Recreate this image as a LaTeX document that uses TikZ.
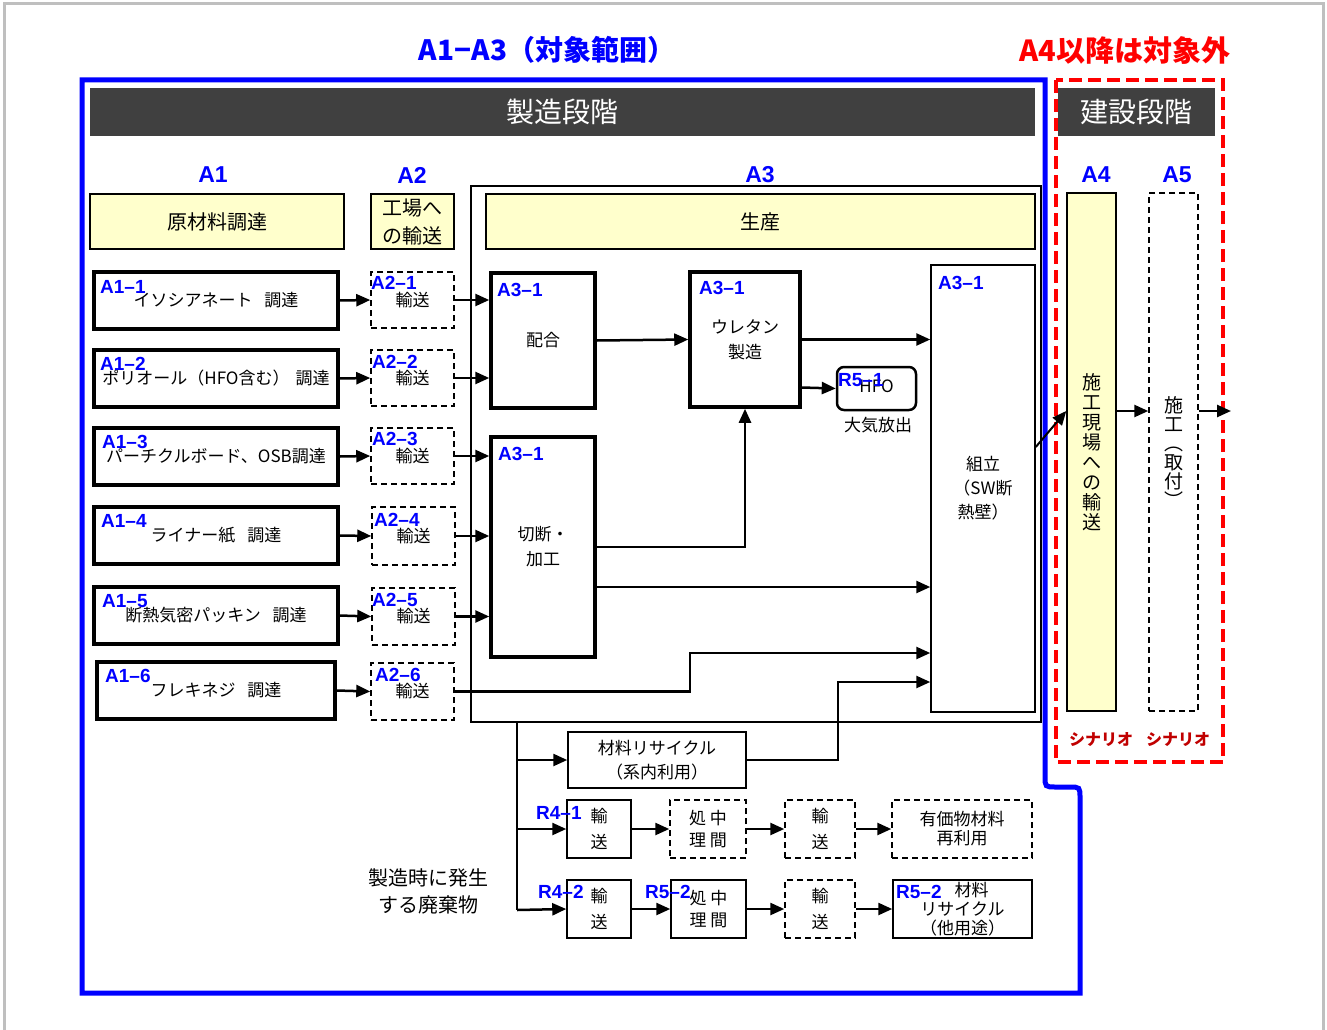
\documentclass[tikz,border=0pt]{standalone}
\usepackage{fontspec}
\setmainfont{Noto Sans CJK JP}
\newfontfamily\labfont{Liberation Sans}
\usetikzlibrary{arrows.meta,calc}
\definecolor{ylw}{HTML}{FFFFCC}
\definecolor{hdr}{HTML}{404040}
\definecolor{dred}{HTML}{C00000}
\definecolor{frm}{HTML}{BFBFBF}
\newcommand\fsz[2]{\fontsize{#1}{#2}\selectfont}
\newcommand\mkbox[7]{%
 \pgfmathsetmacro\bxw{#5-#3}\pgfmathsetmacro\bxh{#6-#4}%
 \pgfmathsetmacro\bxcx{(#3+#5)/2}\pgfmathsetmacro\bxcy{(#4+#6)/2}%
 \node[#1, minimum width=\bxw pt, minimum height=\bxh pt] (#2) at (\bxcx,\bxcy) {#7};}
\tikzset{
 thickbox/.style={draw, line width=3.5pt, fill=white, inner sep=0pt, align=center},
 thinbox/.style={draw, line width=1.5pt, fill=white, inner sep=0pt, align=center},
 dashbox/.style={draw, line width=1.5pt, dash pattern=on 6pt off 4pt, fill=white, inner sep=0pt, align=center},
 ybox/.style={draw, line width=1.5pt, fill=ylw, inner sep=0pt, align=center},
 hbar/.style={fill=hdr, inner sep=0pt, text=white, font=\fsz{28}{30}},
 lbl/.style={text=blue, font=\labfont\bfseries\fsz{19}{20}, inner sep=0pt, anchor=base west},
 colhd/.style={text=blue, font=\labfont\bfseries\fsz{23}{24}, inner sep=0pt},
 arr/.style={line width=2.5pt, -{Triangle[length=14pt,width=12pt]}},
 ln/.style={line width=2.5pt},
 txt/.style={inner sep=0pt, align=center},
}
\begin{document}
\begin{tikzpicture}[x=1pt,y=-1pt]
\useasboundingbox (0,0) rectangle (1327,1030);
% outer gray frame
\draw[frm, line width=3pt] (4,1030) -- (4,4) -- (1323,4) -- (1323,1030);
% titles
\node[txt, text=blue, font=\bfseries\fsz{28}{30}] (t1) at (547,50) {A1−A3（対象範囲）};
\node[txt, text=red, font=\bfseries\fsz{29}{30}] (t2) at (1125,50) {A4以降は対象外};
% blue outline
\draw[blue, line width=5pt] (82,80) -- (1045,80) -- (1045,776) .. controls (1045,787) .. (1056,787) -- (1069,787) .. controls (1080,787) .. (1080,798) -- (1080,993) -- (82,993) -- cycle;
% header bars
\mkbox{hbar}{hd1}{90}{88}{1035}{136}{製造段階}
\mkbox{hbar}{hd2}{1058}{88}{1215}{136}{建設段階}
% red dashed
\draw[red, line width=4pt, dash pattern=on 13pt off 6pt] (1056,80) rectangle (1223,762);
% column headers
\node[colhd] (c1) at (213,175) {A1};
\node[colhd] (c2) at (412,175) {A2};
\node[colhd] (c3) at (760,175) {A3};
\node[colhd] (c4) at (1096,175) {A4};
\node[colhd] (c5) at (1177,175) {A5};
% A3 frame
\mkbox{thinbox, fill=none}{a3f}{471}{186}{1041}{722}{}
% yellow boxes
\mkbox{ybox,font=\fsz{20}{28}}{y1}{90}{194}{344}{249}{原材料調達}
\mkbox{ybox,font=\fsz{20}{28}}{y2}{371}{194}{454}{249}{工場へ\\の輸送}
\mkbox{ybox,font=\fsz{20}{28}}{y3}{486}{194}{1035}{249}{生産}
% A1 boxes
\mkbox{thickbox,font=\fsz{17}{20}}{a11}{94}{272}{338}{329}{\raisebox{-1pt}{イソシアネート\hspace{12pt}調達}}
\mkbox{thickbox,font=\fsz{17}{20}}{a12}{94}{350}{338}{407}{ポリオール（HFO含む）\hspace{6pt}調達}
\mkbox{thickbox,font=\fsz{17}{20}}{a13}{94}{428}{338}{485}{パーチクルボード、OSB調達}
\mkbox{thickbox,font=\fsz{17}{20}}{a14}{94}{507}{338}{564}{ライナー紙\hspace{12pt}調達}
\mkbox{thickbox,font=\fsz{17}{20}}{a15}{94}{587}{338}{644}{断熱気密パッキン\hspace{12pt}調達}
\mkbox{thickbox,font=\fsz{17}{20}}{a16}{97}{662}{335}{719}{フレキネジ\hspace{12pt}調達}
\node[lbl] (l11) at (100,293) {A1–1};
\node[lbl] (l12) at (100,370) {A1–2};
\node[lbl] (l13) at (102,448) {A1–3};
\node[lbl] (l14) at (101,527) {A1–4};
\node[lbl] (l15) at (102,607) {A1–5};
\node[lbl] (l16) at (105,682) {A1–6};
% A2 boxes
\mkbox{dashbox,font=\fsz{17}{20}}{a21}{371}{272}{454}{328}{輸送}
\mkbox{dashbox,font=\fsz{17}{20}}{a22}{371}{350}{454}{406}{輸送}
\mkbox{dashbox,font=\fsz{17}{20}}{a23}{371}{428}{454}{484}{輸送}
\mkbox{dashbox,font=\fsz{17}{20}}{a24}{372}{507}{455}{565}{輸送}
\mkbox{dashbox,font=\fsz{17}{20}}{a25}{372}{588}{455}{645}{輸送}
\mkbox{dashbox,font=\fsz{17}{20}}{a26}{371}{663}{454}{720}{輸送}
\node[lbl] (l21) at (371,289) {A2–1};
\node[lbl] (l22) at (372,368) {A2–2};
\node[lbl] (l23) at (372,445) {A2–3};
\node[lbl] (l24) at (374,526) {A2–4};
\node[lbl] (l25) at (372,606) {A2–5};
\node[lbl] (l26) at (375,681) {A2–6};
% A3 process boxes
\mkbox{thickbox,font=\fsz{17}{25}}{hai}{491}{273}{595}{408}{配合}
\mkbox{thickbox,font=\fsz{17}{25}}{ure}{690}{272}{800}{407}{ウレタン\\製造}
\mkbox{thickbox,font=\fsz{17}{25}}{cut}{491}{437}{595}{657}{切断・\\加工}
\mkbox{thinbox,font=\fsz{17}{24}}{kumi}{931}{265}{1035}{712}{組立\\（SW断\\熱壁）}
\node[lbl] (l31) at (497,296) {A3–1};
\node[lbl] (l32) at (699,294) {A3–1};
\node[lbl] (l33) at (498,460) {A3–1};
\node[lbl] (l34) at (938,289) {A3–1};
\mkbox{thinbox, line width=2.5pt, rounded corners=7pt, font=\fsz{17}{20}}{r51}{837}{367}{916}{410}{\strut HFO}
\node[lbl] (l51) at (838,386) {R5–1};
\node[txt, font=\fsz{17}{20}] (taiki) at (878,425) {大気放出};
% A1 -> A2
\draw[arr] (a11.east) -- (a21.west);
\draw[arr] (a12.east) -- (a22.west);
\draw[arr] (a13.east) -- (a23.west);
\draw[arr] (a14.east) -- (a24.west);
\draw[arr] (a15.east) -- (a25.west);
\draw[arr] (a16.east) -- (a26.west);
% A2 -> A3
\draw[arr] (a21.east) -- (a21.east -| hai.west);
\draw[arr] (a22.east) -- (a22.east -| hai.west);
\draw[arr] (a23.east) -- (a23.east -| cut.west);
\draw[arr] (a24.east) -- (a24.east -| cut.west);
\draw[arr] (a25.east) -- (a25.east -| cut.west);
\draw[arr] (a26.east) -- (690,691.5) |- ([yshift=-164.5pt]kumi.west);
% inside A3
\draw[arr] (hai.east) -- (ure.west);
\draw[arr] (ure.east) -- (ure.east -| kumi.west);
\draw[arr] ([yshift=-48pt]ure.east) -- (r51.west);
\draw[arr] (cut.east) -| (ure.south);
\draw[arr] ([yshift=-40pt]cut.east) -- ([yshift=-40pt]cut.east -| kumi.west);
% waste / recycling
\mkbox{thinbox,font=\fsz{17}{24}}{rec}{568}{732}{746}{788}{材料リサイクル\\（系内利用）}
\mkbox{thinbox,font=\fsz{17}{26}}{r41}{567}{800}{631}{858}{輸\\送}
\mkbox{dashbox,font=\fsz{17}{22}}{m41}{670}{800}{746}{858}{処 中\\理 間}
\mkbox{dashbox,font=\fsz{17}{26}}{t41}{785}{800}{855}{858}{輸\\送}
\mkbox{dashbox,font=\fsz{17}{19}}{v41}{892}{800}{1032}{858}{有価物材料\\再利用}
\mkbox{thinbox,font=\fsz{17}{26}}{r42}{567}{880}{631}{938}{輸\\送}
\mkbox{thinbox,font=\fsz{17}{22}}{m42}{671}{880}{746}{938}{処 中\\理 間}
\mkbox{dashbox,font=\fsz{17}{26}}{t42}{785}{880}{855}{938}{輸\\送}
\mkbox{thinbox,font=\fsz{17}{19}}{v42}{893}{880}{1032}{938}{\hspace*{18pt}材料\\リサイクル\\（他用途）}
\node[lbl] (l41) at (536,819) {R4–1};
\node[lbl] (l42) at (538,898) {R4–2};
\node[lbl] (l52) at (645,898) {R5–2};
\node[lbl] (l53) at (896,898) {R5–2};
\node[txt, font=\fsz{20}{27}] (haiki) at (428,891) {製造時に発生\\する廃棄物};
\coordinate (wtop) at (517,722);
\coordinate (wbot) at (517,910);
\draw[ln] (wtop) -- (wbot);
\draw[arr] (wtop |- rec.west) -- (rec.west);
\draw[arr] (wtop |- r41.west) -- (r41.west);
\draw[arr] (wbot) -- (r42.west);
\draw[arr] (rec.east) -- (838,760) |- ([yshift=-193.5pt]kumi.west);
\draw[arr] (r41.east) -- (m41.west);
\draw[arr] (m41.east) -- (t41.west);
\draw[arr] (t41.east) -- (v41.west);
\draw[arr] (r42.east) -- (m42.west);
\draw[arr] (m42.east) -- (t42.west);
\draw[arr] (t42.east) -- (v42.west);
% A4 / A5
\mkbox{ybox,font=\fsz{19}{20}}{a4}{1067}{193}{1116}{711}{施\\工\\現\\場\\へ\\の\\輸\\送}
\mkbox{dashbox,font=\fsz{19}{19}}{a5}{1149}{193}{1198}{711}{施\\工\\︵\\取\\付\\︶}
\coordinate (outpt) at (1231,411);
\draw[arr, line width=2pt] ([yshift=41.5pt]kumi.east) -- ([yshift=41pt]a4.west);
\draw[arr] ([yshift=41pt]a4.east) -- ([yshift=41pt]a5.west);
\draw[arr] ([yshift=41pt]a5.east) -- (outpt);
\node[txt, text=dred, font=\bfseries\fsz{16}{18}] (sc1) at (1101,740) {シナリオ};
\node[txt, text=dred, font=\bfseries\fsz{16}{18}] (sc2) at (1178,740) {シナリオ};
\end{tikzpicture}
\end{document}
